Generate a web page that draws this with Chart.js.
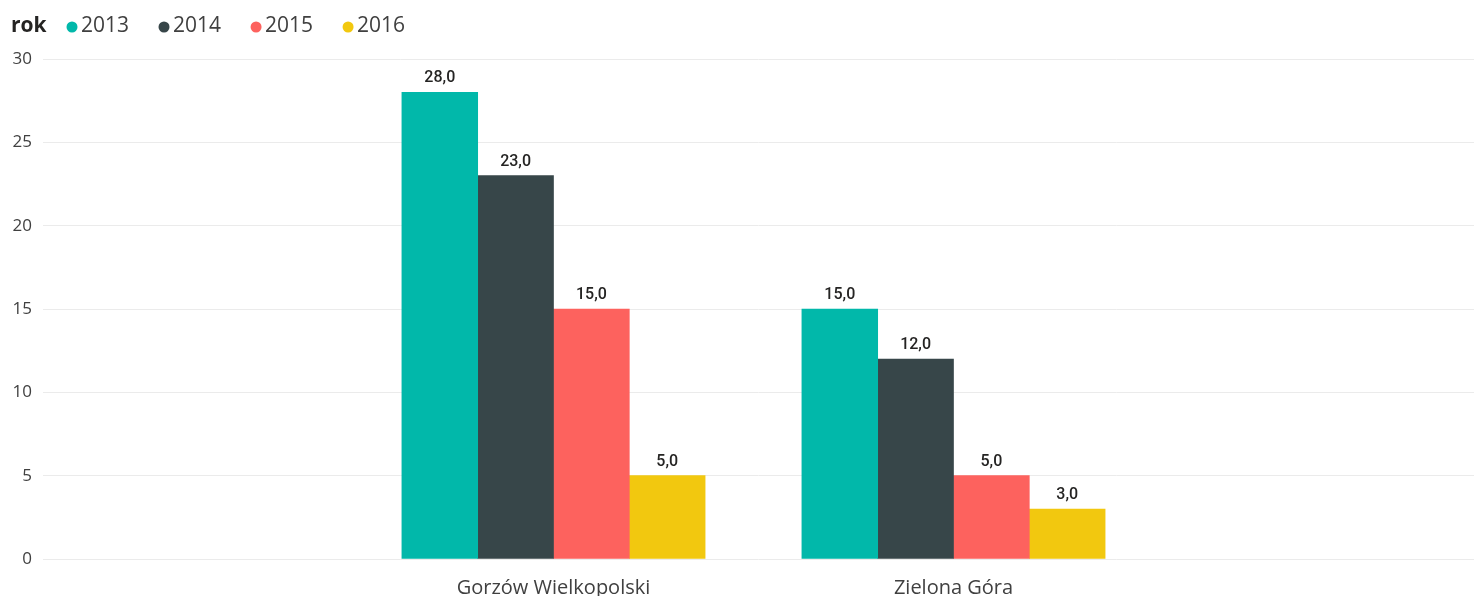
<!DOCTYPE html>
<html>
<head>
<meta charset="utf-8">
<script src="https://cdn.jsdelivr.net/npm/chart.js@4/dist/chart.umd.min.js"></script>
<style>
  html, body { margin: 0; padding: 0; background: #fff; }
  #wrap { width: 1474px; height: 596px; position: relative; }
</style>
</head>
<body>
<div id="wrap"><canvas id="rokChart"></canvas></div>
<script>
// data
const categories = ["Gorzów Wielkopolski", "Zielona Góra"];
const years = ["2013", "2014", "2015", "2016"];
const values2013 = [28, 15];
const values2014 = [23, 12];
const values2015 = [15, 5];
const values2016 = [5, 3];
const yTicks = [0, 5, 10, 15, 20, 25, 30];
const legendTitle = "rok";

const colors = ["#01B8AA", "#374649", "#FD625E", "#F2C80F"];
const allValues = [values2013, values2014, values2015, values2016];

// categories sit at 1, 2 on a linear axis so the group can be placed like Power BI does
const catPos = categories.map((c, i) => i + 1);

const datasets = years.map((y, i) => ({
    label: y,
    data: allValues[i].map((v, j) => ({ x: catPos[j], y: v })),
    backgroundColor: colors[i],
    borderWidth: 0,
    barThickness: 75.8
}));

// value labels above bars, Polish decimal comma
const barLabels = {
    id: "barLabels",
    afterDatasetsDraw(chart) {
        const ctx = chart.ctx;
        ctx.save();
        ctx.font = "500 16px Roboto";
        ctx.fillStyle = "#252423";
        ctx.textAlign = "center";
        ctx.textBaseline = "bottom";
        chart.data.datasets.forEach((ds, i) => {
            chart.getDatasetMeta(i).data.forEach((bar, j) => {
                const txt = ds.data[j].y.toFixed(1).replace(".", ",");
                ctx.fillText(txt, bar.x, bar.y - 6);
            });
        });
        ctx.restore();
    }
};

// legend with bold title on the same line
const inlineLegend = {
    id: "inlineLegend",
    afterDraw(chart) {
        const ctx = chart.ctx;
        ctx.save();
        ctx.textBaseline = "middle";
        ctx.textAlign = "left";
        ctx.font = "bold 21px 'Open Sans'";
        ctx.fillStyle = "#252423";
        const cy = 26;
        ctx.fillText(legendTitle, 11, cy);
        let x = 72;
        ctx.font = "21px 'Open Sans'";
        chart.data.datasets.forEach((ds) => {
            ctx.beginPath();
            ctx.fillStyle = ds.backgroundColor;
            ctx.arc(x, cy + 1, 5.5, 0, Math.PI * 2);
            ctx.fill();
            ctx.fillStyle = "#404040";
            ctx.fillText(ds.label, x + 9, cy);
            x += 9 + ctx.measureText(ds.label).width + 35;
        });
        ctx.restore();
    }
};

new Chart(document.getElementById("rokChart").getContext("2d"), {
    type: "bar",
    data: { datasets: datasets },
    options: {
        responsive: true,
        maintainAspectRatio: false,
        animation: false,
        layout: { padding: { top: 59, right: 0, bottom: 0, left: 0 } },
        scales: {
            x: {
                type: "linear",
                offset: false,
                min: -0.27625,
                max: 3.30125,
                grid: { display: false },
                border: { display: false },
                afterBuildTicks: (scale) => {
                    scale.ticks = catPos.map(v => ({ value: v }));
                },
                afterFit: (scale) => { scale.height = 37; },
                ticks: {
                    autoSkip: false,
                    maxRotation: 0,
                    padding: 9,
                    color: "#404040",
                    font: { family: "'Open Sans'", size: 20 },
                    callback: (value, index) => categories[index]
                }
            },
            y: {
                min: 0,
                max: 30,
                afterBuildTicks: (scale) => {
                    scale.ticks = yTicks.map(v => ({ value: v }));
                },
                afterFit: (scale) => { scale.width = 43; },
                grid: { color: "#ebebeb", drawTicks: false, lineWidth: 1 },
                border: { display: false },
                ticks: {
                    padding: 11,
                    color: "#404040",
                    font: { family: "'Open Sans'", size: 17 }
                }
            }
        },
        plugins: {
            legend: { display: false },
            tooltip: { enabled: false }
        }
    },
    plugins: [barLabels, inlineLegend]
});
</script>
</body>
</html>
